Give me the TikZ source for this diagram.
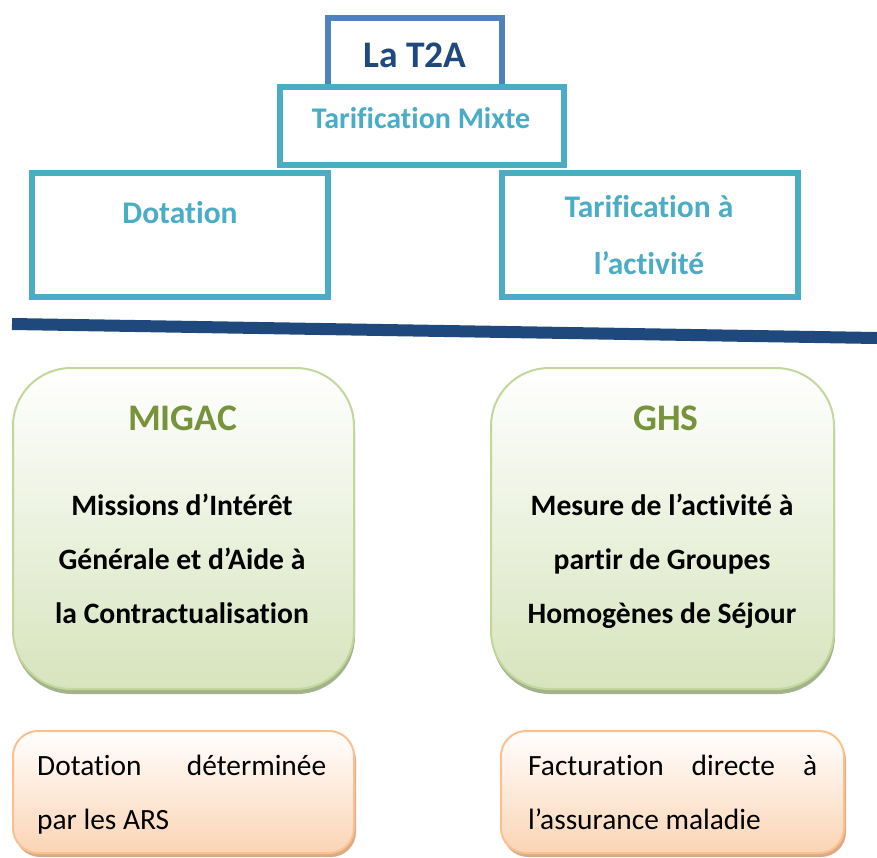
\documentclass[tikz,border=0pt]{standalone}
\usepackage{fontspec}
\setmainfont{Carlito}[Ligatures=CommonOff]
\usetikzlibrary{positioning, shadows}

\definecolor{bleuT}{HTML}{4F81BD}
\definecolor{bleuFonce}{HTML}{1F497D}
\definecolor{turquoise}{HTML}{4BACC6}
\definecolor{vertFond}{HTML}{D7E4BD}
\definecolor{vertBord}{HTML}{C3D69B}
\definecolor{vertTitre}{HTML}{77933C}
\definecolor{vertOmbre}{HTML}{A3B38C}
\definecolor{orangeFond}{HTML}{FBD4B4}
\definecolor{orangeBord}{HTML}{FAC090}
\definecolor{orangeOmbre}{HTML}{D9AC87}

\tikzset{
  cadre/.style={draw=turquoise, line width=6pt, fill=white, inner sep=0pt},
  bulle/.style={draw=vertBord, line width=2pt, rounded corners=58pt, inner sep=0pt,
    top color=white, bottom color=vertFond,
    drop shadow={shadow xshift=1pt, shadow yshift=-5pt, fill=vertOmbre, opacity=1}},
  note/.style={draw=orangeBord, line width=2pt, rounded corners=25pt, inner sep=0pt,
    top color=white, bottom color=orangeFond,
    drop shadow={shadow xshift=2pt, shadow yshift=-4pt, fill=orangeOmbre, opacity=1}},
  gros/.style={font=\fontsize{37.5}{45}\selectfont\bfseries, anchor=base, inner sep=0pt},
  titre/.style={font=\fontsize{31.5}{57}\selectfont\bfseries, text=turquoise, anchor=base, align=center, inner sep=0pt},
  corps/.style={font=\fontsize{29.6}{54}\selectfont\bfseries, anchor=base, align=center, inner sep=0pt},
  texte/.style={font=\fontsize{29.4}{54}\selectfont, anchor=base west, align=left, inner sep=0pt}
}

\begin{document}
\begin{tikzpicture}[x=1pt, y=-1pt]
  \useasboundingbox (0,0) rectangle (877,857);
  \clip (0,0) rectangle (877,857);

  % les cadres du haut
  \node[cadre, draw=bleuT, minimum width=174pt, minimum height=90pt] (T2A) at (415,63) {};
  \node[gros, text=bleuFonce] (T2A txt) at (415,67) {La T2A};
  \node[cadre, minimum width=284pt, minimum height=78pt] (Mixte) at (422,126) {};
  \node[titre, font=\fontsize{30}{36}\selectfont\bfseries] (Mixte txt) at (421,128) {Tarification Mixte};
  \node[cadre, minimum width=296pt, minimum height=124pt] (Dotation) at (180,235) {};
  \node[titre] (Dotation txt) at (180,223) {Dotation};
  \node[cadre, minimum width=296pt, minimum height=124pt] (Activite) at (650,235) {};
  \node[titre] (Activite txt) at (649,274) {Tarification à\\l’activité};

  % la barre
  \draw[bleuFonce, line width=12pt] (12,324) -- (877,338);

  % les bulles vertes
  \node[bulle, minimum width=341pt, minimum height=321pt] (MIGAC) at (183.5,528.5) {};
  \node[gros, text=vertTitre] (MIGAC txt) at (182.5,430) {MIGAC};
  \node[corps] (MIGAC def) at (182,623) {Missions d’Intérêt\\Générale et d’Aide à\\la Contractualisation};
  \node[bulle, minimum width=343pt, minimum height=321pt] (GHS) at (662.5,528.5) {};
  \node[gros, text=vertTitre] (GHS txt) at (666,430) {GHS};
  \node[corps] (GHS def) at (662,623) {Mesure de l’activité à\\partir de Groupes\\Homogènes de Séjour};

  % les notes orange
  \node[note, minimum width=341pt, minimum height=122pt] (Note ARS) at (183.5,792) {};
  \node[texte] (Note ARS txt) at (37,829) {\makebox[289pt][s]{Dotation déterminée}\\par les ARS};
  \node[note, minimum width=343pt, minimum height=122pt] (Note AM) at (672.5,792) {};
  \node[texte] (Note AM txt) at (528,829) {\makebox[289pt][s]{Facturation directe à}\\l’assurance maladie};
\end{tikzpicture}
\end{document}
